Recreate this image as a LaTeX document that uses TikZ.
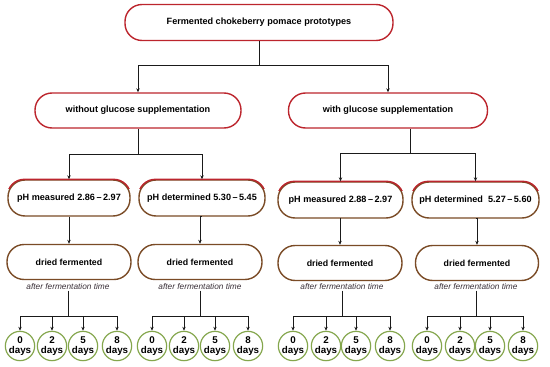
\documentclass[tikz,border=0pt]{standalone}
\usepackage{fontspec}
\setmainfont{Liberation Sans}
\usetikzlibrary{arrows.meta,calc}
\definecolor{boxred}{HTML}{BC252D}
\definecolor{boxbrown}{HTML}{7A4B26}
\definecolor{circgreen}{HTML}{84A64C}
\definecolor{lncol}{HTML}{1A1A1A}
\definecolor{labcol}{HTML}{3A3038}
\tikzset{
  pill/.style={rectangle, rounded corners=17pt, line width=1.4pt, inner sep=0pt,
    minimum height=35pt, font=\fontsize{9.1}{10}\selectfont\bfseries, fill=white},
  redpill/.style={pill, draw=boxred},
  brownpill/.style={pill, draw=boxbrown},
  driedpill/.style={brownpill, font=\fontsize{8.8}{10}\selectfont\bfseries},
  timelab/.style={inner sep=1pt, font=\fontsize{8.3}{9}\selectfont\itshape, text=labcol},
  daycirc/.style={circle, draw=circgreen, line width=1.2pt, minimum size=28pt, inner sep=0pt,
    align=center, font=\fontsize{9.8}{10.2}\selectfont\bfseries, fill=white},
  ln/.style={draw=lncol, line width=0.8pt},
  arr/.style={ln, -{Stealth[length=4pt,width=3.4pt]}}
}
\begin{document}
\begin{tikzpicture}[x=1pt,y=-1pt]
\useasboundingbox (0,0) rectangle (550,367);

% top
\node[redpill, minimum width=268pt, minimum height=36pt] (top) at (259,22.5) {Fermented chokeberry pomace prototypes};

% level 2
\node[redpill, minimum width=206pt] (L2L) at (138,110.5) {without glucose supplementation};
\node[redpill, minimum width=199pt] (L2R) at (388,110.5) {with glucose supplementation};

% pH boxes
\node[brownpill, minimum width=122pt, minimum height=36pt] (pH1) at (69,198) {pH measured 2.86\,--\,2.97};
\node[brownpill, minimum width=126pt, minimum height=36pt] (pH2) at (202,198) {pH determined 5.30\,--\,5.45};
\node[brownpill, minimum width=125pt, minimum height=36pt] (pH3) at (340.5,200) {pH measured 2.88\,--\,2.97};
\node[brownpill, minimum width=127pt, minimum height=36pt] (pH4) at (475.5,200) {pH determined\ \ 5.27\,--\,5.60};

% red top edges of pH boxes
\foreach \n in {pH1,pH2,pH3,pH4}{
  \begin{scope}
    \clip ([xshift=-2pt,yshift=2pt]\n.north west) rectangle ([xshift=2pt,yshift=-9pt]\n.north east);
    \draw[boxred, line width=1.4pt, rounded corners=17pt] (\n.south west) rectangle (\n.north east);
  \end{scope}
}

% dried boxes
\node[driedpill, minimum width=124pt] (d1) at (69,262) {dried fermented};
\node[driedpill, minimum width=124pt] (d2) at (200,262) {dried fermented};
\node[driedpill, minimum width=124pt] (d3) at (340,263) {dried fermented};
\node[driedpill, minimum width=123pt] (d4) at (477,263) {dried fermented};

% labels
\node[timelab] (a1) at (68,286.5) {after fermentation time};
\node[timelab] (a2) at (200,286.5) {after fermentation time};
\node[timelab] (a3) at (342,286.5) {after fermentation time};
\node[timelab] (a4) at (476,286.5) {after fermentation time};

% circles
\foreach \g/\xa/\xb/\xc/\xd in {1/20/52/83/117, 2/152/184/215/248, 3/293/326/356/390, 4/427/460/490/523}{
  \node[daycirc] (c\g0) at (\xa,346) {0\\days};
  \node[daycirc] (c\g2) at (\xb,346) {2\\days};
  \node[daycirc] (c\g5) at (\xc,346) {5\\days};
  \node[daycirc] (c\g8) at (\xd,346) {8\\days};
}

% connectors top -> level 2
\coordinate (j1) at (259,65);
\draw[ln] (top.south) -- (j1);
\draw[arr] (j1) -| (L2L.north);
\draw[arr] (j1) -| (L2R.north);

% level 2 -> pH
\coordinate (b1) at (138,154);
\coordinate (b2) at (410,153);
\draw[ln] (L2L.south) -- (b1);
\draw[arr] (b1) -| (pH1.north);
\draw[arr] (b1) -| (pH2.north);
\draw[ln] (L2R.south -| b2) -- (b2);
\draw[arr] (b2) -| (pH3.north);
\draw[arr] (b2) -| (pH4.north);

% pH -> dried
\foreach \i in {1,2,3,4}{
  \draw[arr] (pH\i.south) -- (d\i.north |- pH\i.south) -- (d\i.north);
}

% labels -> circles
\foreach \i in {1,2,3,4}{
  \coordinate (k\i) at ($(a\i.south)+(0,26)$);
  \draw[ln] (a\i.south) -- (k\i);
  \foreach \d in {0,2,5,8}{
    \draw[arr] (k\i) -| (c\i\d.north);
  }
}
\end{tikzpicture}
\end{document}
